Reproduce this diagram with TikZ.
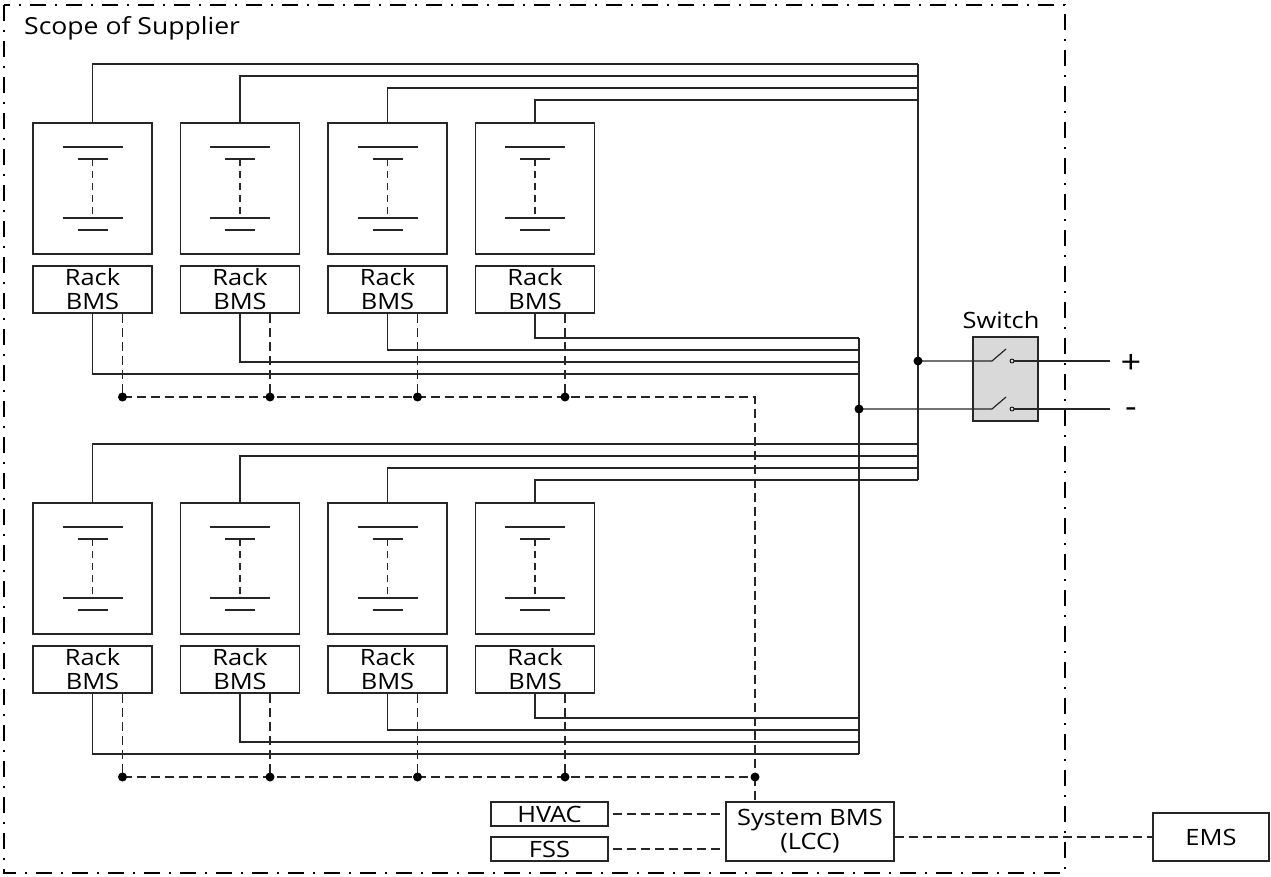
\documentclass[tikz,border=0pt]{standalone}
\usepackage{fontspec}
\setmainfont{Open Sans}[FakeStretch=1.13]
\definecolor{swgray}{HTML}{D9D9D9}
\begin{document}
\begin{tikzpicture}[x=1pt,y=-1pt,
  wire/.style={line width=1.2pt, draw=black!85},
  sig/.style={line width=1.2pt, draw=black!85, dash pattern=on 9pt off 5pt},
  cellsig/.style={line width=1.1pt, draw=black!85, dash pattern=on 7pt off 5pt},
  border/.style={line width=2pt, dash pattern=on 16pt off 9pt on 2pt off 9pt},
  box/.style={draw=black!85, line width=1.2pt, inner sep=0pt},
  lbl/.style={font=\fontsize{22.5}{24}\selectfont, align=center},
  dot/.style={circle, fill=black, inner sep=0pt, minimum size=9pt}
]
\useasboundingbox (0,0) rectangle (1271,877);
\draw[border] (4,5) rectangle (1065,873);
\node[anchor=west, font=\fontsize{23.5}{26}\selectfont, inner sep=0pt] (scope) at (24,28) {Scope of Supplier};

\foreach \g/\dy in {u/0, l/380} {
  \foreach \i in {1,...,4} {
    \pgfmathsetmacro\xc{92.5+147.5*(\i-1)}
    \pgfmathsetmacro\yt{64+12*(\i-1)+\dy}
    \pgfmathsetmacro\yb{374-12*(\i-1)+\dy}
    \node[box, minimum width=119pt, minimum height=131pt] (rack\g\i) at (\xc, 188.5+\dy) {};
    \node[box, minimum width=119pt, minimum height=47pt, lbl] (bms\g\i) at (\xc, 289.5+\dy) {Rack\\BMS};
    % battery symbol
    \draw[wire] (\xc-30,147+\dy) -- (\xc+30,147+\dy);
    \draw[wire] (\xc-15,159+\dy) -- (\xc+15,159+\dy);
    \draw[cellsig] (\xc,159+\dy) -- (\xc,218+\dy);
    \draw[wire] (\xc-30,218+\dy) -- (\xc+30,218+\dy);
    \draw[wire] (\xc-15,230+\dy) -- (\xc+15,230+\dy);
    % power wires
    \draw[wire] (rack\g\i.north) |- (918,\yt);
    \draw[wire] (bms\g\i.south) |- (859,\yb);
    % communication taps
    \coordinate (tap\g\i) at (\xc+30,397+\dy);
    \draw[sig] (bms\g\i.south -| tap\g\i) -- (tap\g\i);
  }
}

% DC buses
\coordinate (pbus) at (918,361);
\coordinate (nbus) at (859,409);
\draw[wire] (918,64) -- (918,480);
\draw[wire] (859,338) -- (859,754);

% switch
\node[box, fill=swgray, minimum width=65pt, minimum height=84pt] (sw) at (1005.5,379) {};
\node[lbl] (swl) at (1001,320) {Switch};
\coordinate (pout) at (1110,361);
\coordinate (nout) at (1110,409);
\draw[wire] (pbus) -- (992,361) -- (1006,349);
\draw[line width=0.8pt] (1012,361) circle (2pt);
\draw[wire] (1014,361) -- (pout);
\draw[wire] (nbus) -- (992,409) -- (1006,397);
\draw[line width=0.8pt] (1012,409) circle (2pt);
\draw[wire] (1014,409) -- (nout);
\node[font=\fontsize{32}{34}\selectfont, inner sep=0pt] (plus) at (1131,364) {+};
\node[font=\fontsize{32}{34}\selectfont, inner sep=0pt] (minus) at (1131,413) {-};
\node[dot] at (pbus) {};
\node[dot] at (nbus) {};

% system nodes
\node[box, lbl, minimum width=117pt, minimum height=24pt] (hvac) at (549.5,814) {HVAC};
\node[box, lbl, minimum width=117pt, minimum height=24pt] (fss) at (549.5,849) {FSS};
\node[box, lbl, minimum width=168pt, minimum height=59pt] (sys) at (810,831.5) {System BMS\\(LCC)};
\node[box, lbl, minimum width=116pt, minimum height=48pt] (ems) at (1211,837) {EMS};

% communication buses
\coordinate (jn) at (755,777);
\draw[sig] (tapu1) -- (755,397) -- (jn);
\draw[sig] (tapl1) -- (jn);
\draw[sig] (jn) -- (jn |- sys.north);
\draw[sig] ([xshift=4pt]hvac.east) -- (hvac.east -| sys.west);
\draw[sig] ([xshift=4pt]fss.east) -- (fss.east -| sys.west);
\draw[sig] (sys.east |- ems.west) -- (ems.west);
\foreach \g in {u,l} { \foreach \i in {1,...,4} { \node[dot] at (tap\g\i) {}; } }
\node[dot] at (jn) {};
\end{tikzpicture}
\end{document}
